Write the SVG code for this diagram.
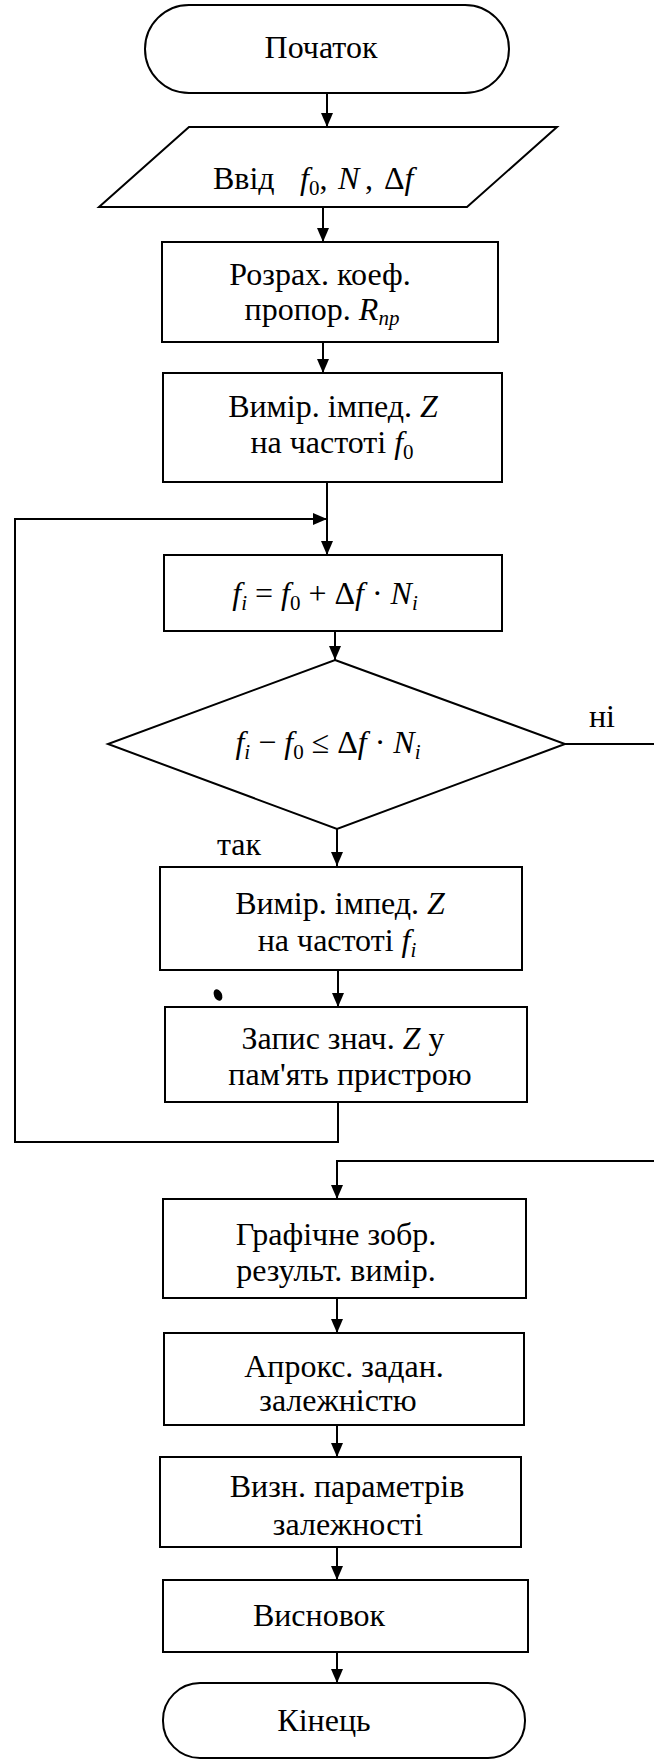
<svg xmlns="http://www.w3.org/2000/svg" width="654" height="1762" viewBox="0 0 654 1762">
<defs>
<style>
.s{fill:#fff;stroke:#000;stroke-width:2}
.t{font-family:"Liberation Serif","Times New Roman",serif;font-size:32px;fill:#000;text-anchor:middle}
.l{text-anchor:start}
.i{font-style:italic}
.b{font-size:21px}
.c{fill:none;stroke:#000;stroke-width:2}
</style>
<marker id="ah" viewBox="0 0 14 12" refX="14" refY="6" markerWidth="14" markerHeight="12" markerUnits="userSpaceOnUse" orient="auto">
<path d="M0,0 L14,6 L0,12 Z" fill="#000"/>
</marker>
</defs>
<rect width="654" height="1762" fill="#fff"/>
<g id="connectors">
<path class="c" d="M327,93 V127" marker-end="url(#ah)"/>
<path class="c" d="M323,207 V242" marker-end="url(#ah)"/>
<path class="c" d="M323,342 V373" marker-end="url(#ah)"/>
<path class="c" d="M327,482 V555" marker-end="url(#ah)"/>
<path class="c" d="M335,631 V660" marker-end="url(#ah)"/>
<path class="c" d="M337,829 V866" marker-end="url(#ah)"/>
<path class="c" d="M338,970 V1007" marker-end="url(#ah)"/>
<path class="c" d="M338,1102 V1142 H15 V519 H327" marker-end="url(#ah)"/>
<path class="c" d="M565,744 H654"/>
<path class="c" d="M654,1161 H337 V1199" marker-end="url(#ah)"/>
<path class="c" d="M337,1298 V1333" marker-end="url(#ah)"/>
<path class="c" d="M337,1425 V1457" marker-end="url(#ah)"/>
<path class="c" d="M337,1547 V1580" marker-end="url(#ah)"/>
<path class="c" d="M337,1652 V1683" marker-end="url(#ah)"/>
<text class="t" x="602" y="727">ні</text>
<text class="t" x="239" y="855">так</text>
</g>
<g id="start">
<rect class="s" x="145" y="5" width="364" height="88" rx="44" ry="44"/>
<text class="t" x="321" y="58">Початок</text>
</g>
<g id="input">
<polygon class="s" points="189,127 557,127 467,207 99,207"/>
<text class="t l" y="189"><tspan x="213">Ввід</tspan><tspan class="i" x="300">f</tspan><tspan class="b" dy="6">0</tspan><tspan dy="-6">,</tspan><tspan class="i" x="338">N</tspan><tspan x="365">,</tspan><tspan x="384">Δ</tspan><tspan class="i">f</tspan></text>
</g>
<g id="coef">
<rect class="s" x="162" y="242" width="336" height="100"/>
<text class="t" x="320" y="285">Розрах. коеф.</text>
<text class="t" x="322" y="320">пропор. <tspan class="i">R</tspan><tspan class="i b" dy="5">пр</tspan></text>
</g>
<g id="meas0">
<rect class="s" x="163" y="373" width="339" height="109"/>
<text class="t" x="333" y="417">Вимір. імпед. <tspan class="i">Z</tspan></text>
<text class="t" x="332" y="453">на частоті  <tspan class="i">f</tspan><tspan class="b" dy="6">0</tspan></text>
</g>
<g id="calc">
<rect class="s" x="164" y="555" width="338" height="76"/>
<text class="t" x="325" y="604"><tspan class="i">f</tspan><tspan class="i b" dy="6">i</tspan><tspan dy="-6"> = </tspan><tspan class="i">f</tspan><tspan class="b" dy="6">0</tspan><tspan dy="-6"> + Δ</tspan><tspan class="i">f</tspan> · <tspan class="i">N</tspan><tspan class="i b" dy="6">i</tspan></text>
</g>
<g id="decision">
<polygon class="s" points="335,660 565,744 337,829 108,744"/>
<text class="t" x="328" y="753"><tspan class="i">f</tspan><tspan class="i b" dy="6">i</tspan><tspan dy="-6"> − </tspan><tspan class="i">f</tspan><tspan class="b" dy="6">0</tspan><tspan dy="-6"> ≤ Δ</tspan><tspan class="i">f</tspan> · <tspan class="i">N</tspan><tspan class="i b" dy="6">i</tspan></text>
</g>
<g id="measi">
<rect class="s" x="160" y="867" width="362" height="103"/>
<text class="t" x="340" y="914">Вимір. імпед. <tspan class="i">Z</tspan></text>
<text class="t" x="337" y="951">на частоті  <tspan class="i">f</tspan><tspan class="i b" dy="6">i</tspan></text>
</g>
<g id="store">
<rect class="s" x="165" y="1007" width="362" height="95"/>
<text class="t" x="343" y="1049">Запис знач. <tspan class="i">Z</tspan> у</text>
<text class="t" x="350" y="1085">пам'ять пристрою</text>
<ellipse cx="218" cy="995" rx="4" ry="6" transform="rotate(-25 218 995)" fill="#000"/>
</g>
<g id="graph">
<rect class="s" x="163" y="1199" width="363" height="99"/>
<text class="t" x="336" y="1245">Графічне зобр.</text>
<text class="t" x="336" y="1281">результ. вимір.</text>
</g>
<g id="approx">
<rect class="s" x="164" y="1333" width="360" height="92"/>
<text class="t" x="344" y="1377">Апрокс. задан.</text>
<text class="t" x="338" y="1411">залежністю</text>
</g>
<g id="params">
<rect class="s" x="160" y="1457" width="361" height="90"/>
<text class="t" x="347" y="1497">Визн. параметрів</text>
<text class="t" x="348" y="1535">залежності</text>
</g>
<g id="concl">
<rect class="s" x="163" y="1580" width="365" height="72"/>
<text class="t" x="319" y="1626">Висновок</text>
</g>
<g id="end">
<rect class="s" x="163" y="1683" width="362" height="75" rx="37" ry="37"/>
<text class="t" x="324" y="1731">Кінець</text>
</g>
</svg>
